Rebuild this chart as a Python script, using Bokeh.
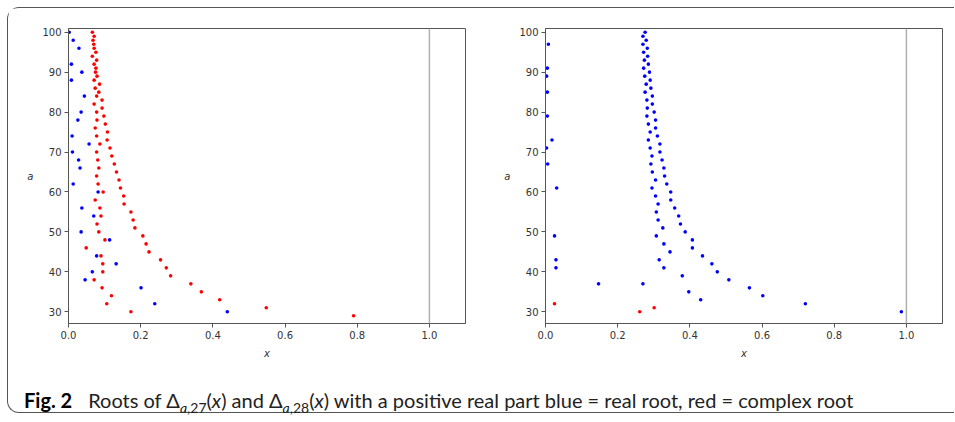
from bokeh.plotting import figure
from bokeh.models import Range1d, Span, FixedTicker, PrintfTickFormatter, Div
from bokeh.layouts import column, row
from bokeh.embed import file_html
from bokeh.resources import INLINE

# ---- Delta_{a,27}: roots with positive real part ----
left_blue_a = [100, 98, 96, 92, 90, 88, 84, 80, 78, 74, 72, 70, 68, 66, 62, 60, 56, 54, 50, 48, 44, 42, 40, 38, 36, 32, 30]
left_blue_x = [0.002, 0.013, 0.029, 0.008, 0.037, 0.008, 0.044, 0.035, 0.026, 0.010, 0.057, 0.011, 0.028, 0.032,
               0.013, 0.082, 0.037, 0.070, 0.035, 0.114, 0.078, 0.132, 0.066, 0.046, 0.201, 0.239, 0.440]

left_red_a = [100, 99, 98, 97, 96, 95, 94, 93, 92, 91, 90, 89, 88, 87, 86, 85, 84, 83, 82, 81, 80, 79, 78, 77, 76,
              75, 74, 73, 72, 71, 70, 69, 68, 67, 66, 65, 64, 63, 62, 61, 60, 59, 58, 57, 56, 55, 54, 53, 52, 51,
              50, 49, 48, 47, 46, 45, 44, 43, 42, 41, 40, 39, 38, 37, 36, 35, 34, 33, 32, 31, 30, 29]
left_red_x = [0.066, 0.071, 0.068, 0.070, 0.071, 0.076, 0.066, 0.078, 0.071, 0.076, 0.075, 0.079, 0.071, 0.086,
              0.074, 0.084, 0.078, 0.093, 0.071, 0.093, 0.078, 0.098, 0.079, 0.102, 0.074, 0.108, 0.078, 0.107,
              0.087, 0.115, 0.078, 0.120, 0.081, 0.127, 0.084, 0.133, 0.078, 0.140, 0.082, 0.144, 0.096, 0.153,
              0.074, 0.154, 0.087, 0.173, 0.090, 0.179, 0.079, 0.184, 0.084, 0.206, 0.101, 0.215, 0.049, 0.223,
              0.090, 0.255, 0.095, 0.271, 0.095, 0.283, 0.071, 0.339, 0.093, 0.368, 0.119, 0.419, 0.106, 0.548,
              0.173, 0.790]

# ---- Delta_{a,28}: roots with positive real part ----
right_blue_a = [97, 91, 89, 85, 79, 73, 71, 67, 61, 49, 43, 41, 37, 37,
                100, 99, 98, 97, 96, 95, 94, 93, 92, 91, 90, 89, 88, 87, 86, 85, 84, 83, 82, 81, 80, 79, 78, 77,
                76, 75, 74, 73, 72, 71, 70, 69, 68, 67, 66, 65, 64, 63, 62, 61, 60, 59, 58, 57, 56, 55, 54, 53,
                52, 51, 50, 49, 48, 47, 46, 45, 44, 43, 42, 41, 40, 39, 38, 36, 35, 34, 33, 32, 30]
right_blue_x = [0.008, 0.005, 0.003, 0.005, 0.005, 0.018, 0.003, 0.006, 0.031, 0.025, 0.029, 0.029, 0.147, 0.270,
                0.276, 0.270, 0.279, 0.270, 0.282, 0.272, 0.283, 0.274, 0.285, 0.272, 0.288, 0.275, 0.290, 0.279,
                0.292, 0.276, 0.296, 0.281, 0.296, 0.282, 0.301, 0.281, 0.305, 0.285, 0.305, 0.290, 0.310, 0.285,
                0.317, 0.290, 0.317, 0.295, 0.323, 0.292, 0.328, 0.296, 0.330, 0.305, 0.336, 0.295, 0.347, 0.305,
                0.347, 0.312, 0.358, 0.307, 0.369, 0.312, 0.374, 0.325, 0.387, 0.307, 0.407, 0.328, 0.407, 0.345,
                0.435, 0.315, 0.461, 0.328, 0.476, 0.379, 0.508, 0.565, 0.397, 0.602, 0.430, 0.720, 0.986]
right_red_a = [32, 31, 30]
right_red_x = [0.025, 0.301, 0.261]

x_ticks = [0.0, 0.2, 0.4, 0.6, 0.8, 1.0]
y_ticks = [30, 40, 50, 60, 70, 80, 90, 100]
unit_line = 1.0
x_lim = (0.0, 1.1)
y_lim = (27.07, 100.93)


def make_panel(bx, ba, rx, ra, left_border, right_border):
    p = figure(output_backend="svg", toolbar_location=None,
               frame_width=397, frame_height=295,
               min_border_left=left_border, min_border_right=right_border,
               min_border_top=20, min_border_bottom=40,
               x_range=Range1d(*x_lim), y_range=Range1d(*y_lim))
    p.grid.visible = False
    p.outline_line_color = "#555555"
    p.outline_line_width = 1
    p.add_layout(Span(location=unit_line, dimension="height", line_color="#b0b0b0", line_width=1.5))
    p.scatter(bx, ba, size=3.6, color="#0000ff", line_color=None)
    p.scatter(rx, ra, size=3.6, color="#ff0000", line_color=None)
    for ax in (p.xaxis[0], p.yaxis[0]):
        ax.axis_line_color = "#555555"
        ax.major_tick_line_color = "#555555"
        ax.major_tick_out = 4
        ax.major_tick_in = 0
        ax.minor_tick_line_color = None
        ax.major_label_text_font = "DejaVu Sans"
        ax.major_label_text_font_size = "10px"
        ax.major_label_text_color = "#333333"
        ax.axis_label_text_font = "DejaVu Sans"
        ax.axis_label_text_font_size = "10px"
        ax.axis_label_text_font_style = "italic"
        ax.axis_label_text_color = "#333333"
        ax.major_label_standoff = 3
        ax.axis_label_standoff = 6
    p.xaxis.ticker = FixedTicker(ticks=x_ticks)
    p.xaxis.formatter = PrintfTickFormatter(format="%.1f")
    p.yaxis.ticker = FixedTicker(ticks=y_ticks)
    p.yaxis.formatter = PrintfTickFormatter(format="%d")
    p.xaxis.axis_label = "x"
    p.yaxis.axis_label = "a"
    p.yaxis.axis_label_orientation = "horizontal"
    return p


p1 = make_panel(left_blue_x, left_blue_a, left_red_x, left_red_a, 60, 30)
p2 = make_panel(right_blue_x, right_blue_a, right_red_x, right_red_a, 50, 12)

caption = Div(
    text=('<span style="font-weight:bold;color:#000">Fig.&nbsp;2</span>'
          '<span style="display:inline-block;width:16px"></span>'
          'Roots of &Delta;<sub style="font-size:70%"><i>a</i>,27</sub>(<i>x</i>) and '
          '&Delta;<sub style="font-size:70%"><i>a</i>,28</sub>(<i>x</i>) with a positive real part '
          'blue = real root, red = complex root'),
    width=920, height=23, margin=(26, 0, 0, 16),
    styles={"font-family": "Lato", "font-size": "20px", "color": "#222", "white-space": "nowrap",
            "line-height": "23px"})

layout = column(row(p1, p2), caption, margin=(7, 0, 0, 7),
                styles={"border": "1px solid #555", "border-right": "none",
                        "border-radius": "12px 0 0 12px"})

open("out.html", "w").write(file_html(layout, INLINE))
